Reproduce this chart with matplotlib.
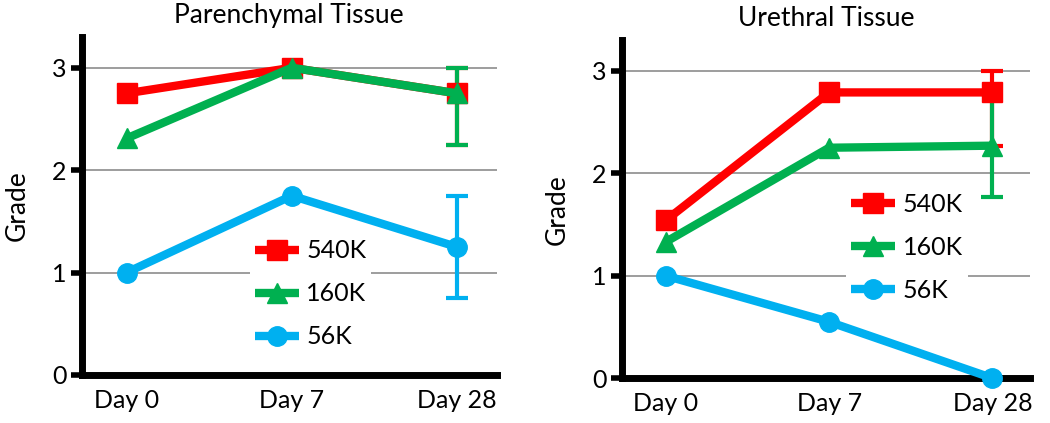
import matplotlib
matplotlib.use('Agg')
import matplotlib.pyplot as plt

plt.rcParams['font.family'] = ['Lato', 'DejaVu Sans']

days = ['Day 0', 'Day 7', 'Day 28']
series = ['540K', '160K', '56K']

# Parenchymal tissue
par_540 = [2.75, 3.0, 2.75]
par_160 = [2.31, 3.0, 2.75]
par_56 = [1.0, 1.75, 1.25]
par_err_lo = {'540K': 0.5, '160K': 0.5, '56K': 0.5}
par_err_hi = {'540K': 0.25, '160K': 0.25, '56K': 0.5}

# Urethral tissue
ure_540 = [1.54, 2.79, 2.79]
ure_160 = [1.33, 2.25, 2.27]
ure_56 = [1.0, 0.55, 0.0]
ure_err_lo = {'540K': 0.52, '160K': 0.5, '56K': 0.0}
ure_err_hi = {'540K': 0.21, '160K': 0.5, '56K': 0.0}

colors = {'540K': '#ff0000', '160K': '#00b050', '56K': '#00b0f0'}
markers = {'540K': 's', '160K': '^', '56K': 'o'}
msizes = {'540K': 15, '160K': 15, '56K': 14}


def draw_panel(ax, title, vals, err_lo, err_hi, xlim, leg_anchor):
    x = list(range(len(days)))
    handles = []
    for name, v in zip(series, vals):
        c = colors[name]
        # error bar on last point only
        if err_lo[name] > 0 or err_hi[name] > 0:
            ax.errorbar([x[-1]], [v[-1]], yerr=[[err_lo[name]], [err_hi[name]]],
                        fmt='none', ecolor=c, elinewidth=3, capsize=8, capthick=3, zorder=4)
        h, = ax.plot(x, v, color=c, lw=6, marker=markers[name], ms=msizes[name],
                     mec=c, mfc=c, clip_on=False, zorder=5, solid_capstyle='butt')
        handles.append(h)

    ax.set_xlim(*xlim)
    ax.set_ylim(0, 3.3)
    ax.set_yticks([0, 1, 2, 3])
    ax.set_xticks(x)
    ax.set_xticklabels(days, fontsize=18)
    ax.tick_params(axis='y', labelsize=18, length=8, width=4, direction='out', pad=3)
    ax.tick_params(axis='x', length=0, pad=10)
    ax.grid(axis='y', color='#8c8c8c', lw=1.2, zorder=0)
    ax.set_axisbelow(True)
    for s in ['top', 'right']:
        ax.spines[s].set_visible(False)
    for s in ['left', 'bottom']:
        ax.spines[s].set_linewidth(5)
        ax.spines[s].set_zorder(3)
    ax.set_ylabel('Grade', fontsize=19, labelpad=16)
    ax.set_title(title, fontsize=19, pad=10)

    leg = ax.legend(handles, series, loc='center left', bbox_to_anchor=leg_anchor,
                    frameon=True, fontsize=18, handlelength=1.75, handletextpad=0.3,
                    labelspacing=0.8, borderpad=0.2, borderaxespad=0)
    leg.get_frame().set_facecolor('white')
    leg.get_frame().set_edgecolor('none')
    leg.get_frame().set_alpha(1)
    leg.set_zorder(2)


fig = plt.figure(figsize=(10.5, 4.23), dpi=100)
ax1 = fig.add_axes([0.078, 0.1135, 0.395, 0.799])
ax2 = fig.add_axes([0.592, 0.106, 0.389, 0.799])

draw_panel(ax1, 'Parenchymal Tissue', [par_540, par_160, par_56],
           par_err_lo, par_err_hi, (-0.27, 2.24), (0.405, 0.24))
draw_panel(ax2, 'Urethral Tissue', [ure_540, ure_160, ure_56],
           ure_err_lo, ure_err_hi, (-0.27, 2.23), (0.55, 0.388))

fig.savefig('out.png', dpi=100)
